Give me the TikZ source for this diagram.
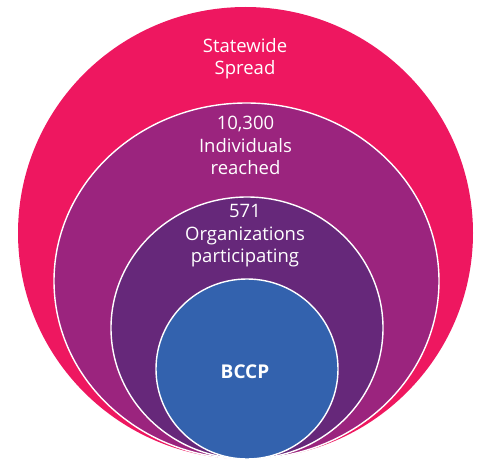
\documentclass[tikz,border=0pt]{standalone}
\usepackage{fontspec}
\setmainfont{Open Sans}
\definecolor{cOuter}{HTML}{EE1760}
\definecolor{cSecond}{HTML}{9B247E}
\definecolor{cThird}{HTML}{66287A}
\definecolor{cInner}{HTML}{3362AE}
\begin{document}
\begin{tikzpicture}[x=1pt,y=-1pt,
  ring/.style={draw=white,line width=1.4pt},
  lbl/.style={text=white,align=center,font=\fontsize{18.5}{22.5}\selectfont}]
\useasboundingbox (0,0) rectangle (477,460);
\fill[cOuter] (245.5,233) ellipse [x radius=227.5, y radius=226];
\filldraw[ring,fill=cSecond] (246.5,281) ellipse [x radius=192.5, y radius=178];
\filldraw[ring,fill=cThird] (247,328) ellipse [x radius=136, y radius=131];
\filldraw[ring,fill=cInner] (247,369) ellipse [x radius=91, y radius=90];
\node[lbl] (state) at (245,58.5) {Statewide\\Spread};
\node[lbl] (indiv) at (245.5,145.5) {10,300\\Individuals\\reached};
\node[lbl] (orgs) at (245,236) {571\\Organizations\\participating};
\node[lbl,font=\fontsize{19}{22}\selectfont\bfseries] (bccp) at (245,372) {BCCP};
\end{tikzpicture}
\end{document}
